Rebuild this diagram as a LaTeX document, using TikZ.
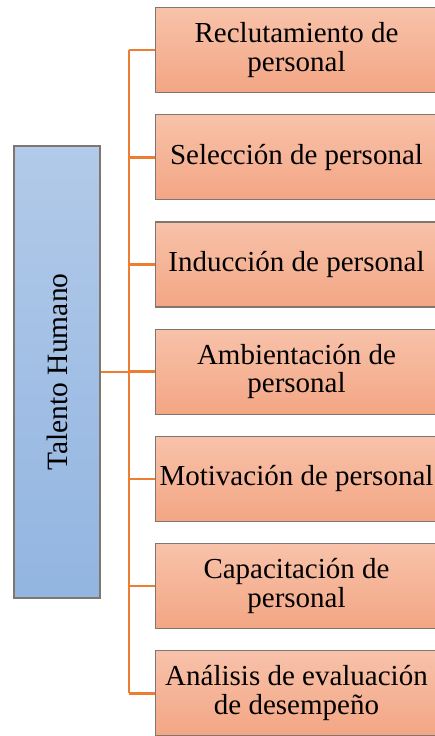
\documentclass[tikz,border=0pt]{standalone}
\usepackage{fontspec}
\setmainfont{Liberation Serif}
\usetikzlibrary{positioning}

\definecolor{linkorange}{RGB}{237,125,49}
\definecolor{boxgray}{RGB}{128,118,112}
\definecolor{peachtop}{RGB}{248,194,170}
\definecolor{peachbot}{RGB}{243,166,132}
\definecolor{bluetop}{RGB}{178,202,233}
\definecolor{bluebot}{RGB}{146,181,225}

\begin{document}
\begin{tikzpicture}[x=1pt,y=-1pt,
  topic/.style={rectangle, draw=boxgray, line width=1.2pt, top color=peachtop, bottom color=peachbot,
    minimum width=282pt, minimum height=85pt, inner sep=0pt, align=center,
    font=\fontsize{29}{28.5}\selectfont},
  root/.style={rectangle, draw=boxgray, line width=1.2pt, top color=bluetop, bottom color=bluebot,
    minimum width=86pt, minimum height=452pt, inner sep=0pt,
    font=\fontsize{29.5}{30}\selectfont},
  link/.style={draw=linkorange, line width=2.6pt}
]
\useasboundingbox (0,0) rectangle (435,736);

% Root
\node[root] (hr) at (57,372) {\rotatebox{90}{Talento Humano}};

% Topics
\foreach \i/\txt in {1/{Reclutamiento de\\personal},
                     2/{Selección de personal},
                     3/{Inducción de personal},
                     4/{Ambientación de\\personal},
                     5/{Motivación de personal},
                     6/{Capacitación de\\personal},
                     7/{Análisis de evaluación\\de desempeño}} {
  \node[topic] (t\i) at (296.5,{50+107.2*(\i-1)}) {\txt};
}

% Trunk
\coordinate (trunk) at (129,0);
\coordinate (top) at (trunk |- t1.west);
\coordinate (bot) at (trunk |- t7.west);
\draw[link] (top) -- (bot);
\draw[link] (hr.east) -- (hr.east -| trunk);
\foreach \i in {1,...,7} {
  \draw[link] (t\i.west -| trunk) -- (t\i.west);
}

\end{tikzpicture}
\end{document}
